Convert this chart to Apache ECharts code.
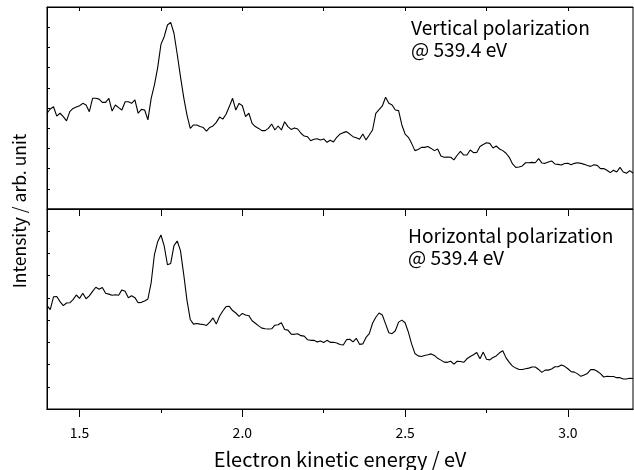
<!DOCTYPE html>
<html>
<head>
<meta charset="utf-8">
<script src="https://cdn.jsdelivr.net/npm/echarts@6/dist/echarts.min.js"></script>
<style>
html,body{margin:0;padding:0;background:#fff;}
#chart{width:634px;height:470px;}
</style>
</head>
<body>
<div id="chart"></div>
<script>
// Electron kinetic energy (eV)
const energy = [
1.40,1.41,1.42,1.43,1.44,1.45,1.46,1.47,1.48,1.49,
1.50,1.51,1.52,1.53,1.54,1.55,1.56,1.57,1.58,1.59,
1.60,1.61,1.62,1.63,1.64,1.65,1.66,1.67,1.68,1.69,
1.70,1.71,1.72,1.73,1.74,1.75,1.76,1.77,1.78,1.79,
1.80,1.81,1.82,1.83,1.84,1.85,1.86,1.87,1.88,1.89,
1.90,1.91,1.92,1.93,1.94,1.95,1.96,1.97,1.98,1.99,
2.00,2.01,2.02,2.03,2.04,2.05,2.06,2.07,2.08,2.09,
2.10,2.11,2.12,2.13,2.14,2.15,2.16,2.17,2.18,2.19,
2.20,2.21,2.22,2.23,2.24,2.25,2.26,2.27,2.28,2.29,
2.30,2.31,2.32,2.33,2.34,2.35,2.36,2.37,2.38,2.39,
2.40,2.41,2.42,2.43,2.44,2.45,2.46,2.47,2.48,2.49,
2.50,2.51,2.52,2.53,2.54,2.55,2.56,2.57,2.58,2.59,
2.60,2.61,2.62,2.63,2.64,2.65,2.66,2.67,2.68,2.69,
2.70,2.71,2.72,2.73,2.74,2.75,2.76,2.77,2.78,2.79,
2.80,2.81,2.82,2.83,2.84,2.85,2.86,2.87,2.88,2.89,
2.90,2.91,2.92,2.93,2.94,2.95,2.96,2.97,2.98,2.99,
3.00,3.01,3.02,3.03,3.04,3.05,3.06,3.07,3.08,3.09,
3.10,3.11,3.12,3.13,3.14,3.15,3.16,3.17,3.18,3.19,
3.20
];

// Vertical polarization @ 539.4 eV (arb. unit)
const vertical = [
47.4,49.5,50.6,46.0,47.4,45.7,43.6,48.2,49.8,50.5,
51.1,52.3,51.5,48.2,54.8,54.8,54.4,52.8,52.8,54.8,
48.5,51.5,50.2,49.0,53.1,53.1,52.3,54.0,47.4,49.3,
49.0,44.1,54.8,61.4,70.0,81.5,85.3,91.1,92.4,87.0,
76.6,65.5,55.1,46.5,39.9,41.6,41.6,40.8,40.3,38.6,
40.4,41.1,42.9,45.5,44.5,46.9,50.7,54.8,49.0,52.3,
51.1,45.7,47.4,42.4,40.8,39.9,38.8,38.8,39.9,42.1,
39.1,41.1,39.1,43.2,40.8,39.4,40.1,39.6,37.5,36.1,
35.8,33.8,34.5,34.8,34.2,34.7,33.0,34.0,33.2,35.5,
37.1,37.8,38.3,37.1,35.8,35.3,34.5,37.1,34.2,36.6,
39.1,47.3,49.2,51.0,55.3,52.3,51.5,49.0,48.7,41.6,
37.1,35.5,32.5,28.9,29.5,30.5,30.5,30.9,30.0,28.9,
29.7,26.2,25.6,25.7,25.6,24.3,26.6,28.5,26.7,26.7,
29.2,27.9,28.0,30.9,31.9,32.8,32.5,30.2,31.2,29.7,
28.9,27.6,25.6,22.3,20.6,20.8,21.3,22.9,22.9,23.1,
22.9,24.9,22.8,22.6,23.3,23.8,22.3,22.1,21.8,22.5,
22.6,21.9,22.6,22.9,22.6,22.1,21.5,21.1,21.9,21.6,
20.0,20.0,19.2,18.0,19.2,18.3,20.6,18.3,17.7,19.0,
17.8
];

// Horizontal polarization @ 539.4 eV (arb. unit)
const horizontal = [
46.5,44.7,50.5,50.6,48.3,46.5,47.7,47.8,49.2,51.3,
49.8,52.1,49.6,50.9,52.9,54.8,53.9,54.7,52.1,51.7,
51.2,51.4,51.2,53.6,53.0,50.1,51.0,50.1,47.8,48.0,
48.6,49.5,56.9,69.5,75.3,78.3,73.4,64.9,65.5,73.5,
75.6,71.3,60.5,48.9,40.3,38.2,38.5,38.2,38.0,37.6,
39.1,41.0,38.2,41.7,44.1,46.1,46.2,44.3,43.2,41.7,
43.0,42.3,42.0,39.7,38.6,37.4,36.4,36.1,36.0,36.1,
37.7,37.9,38.8,35.8,35.5,33.7,33.6,33.9,33.0,32.8,
31.2,30.9,30.9,30.2,30.6,29.9,30.9,30.0,30.0,29.7,
29.0,28.8,31.2,31.4,30.2,31.8,29.1,29.3,32.2,33.9,
38.6,41.3,43.2,42.3,38.3,34.3,33.9,35.2,39.1,40.0,
38.8,34.6,29.3,25.0,23.9,23.6,24.1,24.4,24.8,24.1,
22.8,22.0,21.1,21.0,21.5,20.2,21.5,21.4,21.0,22.6,
23.6,24.4,25.4,22.6,25.6,22.4,22.1,23.2,23.9,25.3,
26.2,23.0,21.0,19.3,18.4,17.8,17.8,18.1,18.4,18.9,
18.9,17.8,16.5,17.5,17.5,18.0,19.0,19.0,19.8,19.2,
18.1,16.8,16.6,15.8,14.7,15.3,16.0,17.7,17.8,17.0,
15.9,14.4,14.7,14.6,14.6,14.1,14.1,13.5,13.5,13.8,
13.7
];

const xTickLabels = [1.5, 2.0, 2.5, 3.0];
const xMinorTicks = [1.75, 2.25, 2.75];
const xTickMarks = [1.5, 1.75, 2.0, 2.25, 2.5, 2.75, 3.0];
const panelTitles = ['Vertical polarization\n@ 539.4 eV', 'Horizontal polarization\n@ 539.4 eV'];

const FONT = '"Noto Sans CJK JP", "Liberation Sans", sans-serif';
const chart = echarts.init(document.getElementById('chart'), null, {renderer: 'canvas'});

const gridBase = {left: 47, width: 586, height: 202, show: true, borderColor: '#000', borderWidth: 1, backgroundColor: 'transparent'};

function xAx(gridIndex, position, tickLen, inside, ticks, labels) {
  return {
    type: 'value', gridIndex, position, min: 1.4, max: 3.2,
    axisLine: {show: true, onZero: false, lineStyle: {color: '#000', width: 1}},
    axisTick: {show: true, inside, length: tickLen, customValues: ticks, lineStyle: {color: '#000', width: 1}},
    axisLabel: labels ? {show: true, customValues: xTickLabels, formatter: v => v.toFixed(1), color: '#000', fontSize: 14, fontFamily: FONT, margin: 17} : {show: false},
    splitLine: {show: false}
  };
}
function yAx(gridIndex, max) {
  return {
    type: 'value', gridIndex, min: 0, max, interval: 10,
    axisLine: {show: true, lineStyle: {color: '#000', width: 1}},
    axisTick: {show: true, inside: true, length: 3, lineStyle: {color: '#000'}},
    axisLabel: {show: false}, splitLine: {show: false}
  };
}

const xa1 = xAx(1, 'bottom', 8, false, xTickLabels, true);
xa1.name = 'Electron kinetic energy / eV';
xa1.nameLocation = 'middle';
xa1.nameGap = 40;
xa1.nameTextStyle = {color: '#000', fontSize: 20, fontFamily: FONT};

chart.setOption({
  animation: false,
  backgroundColor: '#fff',
  grid: [Object.assign({top: 7}, gridBase), Object.assign({top: 209}, gridBase)],
  xAxis: [
    xAx(0, 'top', 4, true, xTickMarks, false),
    xa1,
    xAx(1, 'top', 7, true, xTickMarks, false),
    xAx(1, 'bottom', 4, false, xMinorTicks, false)
  ],
  yAxis: [yAx(0, 100), yAx(1, 90)],
  series: [
    {type: 'line', xAxisIndex: 0, yAxisIndex: 0, data: energy.map((e, i) => [e, vertical[i]]), showSymbol: false, lineStyle: {color: '#000', width: 1.1}},
    {type: 'line', xAxisIndex: 2, yAxisIndex: 1, data: energy.map((e, i) => [e, horizontal[i]]), showSymbol: false, lineStyle: {color: '#000', width: 1.1}}
  ],
  graphic: [
    {type: 'text', left: 411, top: 17, style: {text: panelTitles[0], fill: '#000', font: '19.2px ' + FONT, lineHeight: 22}},
    {type: 'text', left: 408, top: 225, style: {text: panelTitles[1], fill: '#000', font: '19.2px ' + FONT, lineHeight: 22}},
    {type: 'text', x: 19, y: 211, rotation: Math.PI / 2, style: {text: 'Intensity / arb. unit', fill: '#000', font: '17.5px ' + FONT, textAlign: 'center', textVerticalAlign: 'middle'}}
  ]
});
</script>
</body>
</html>
